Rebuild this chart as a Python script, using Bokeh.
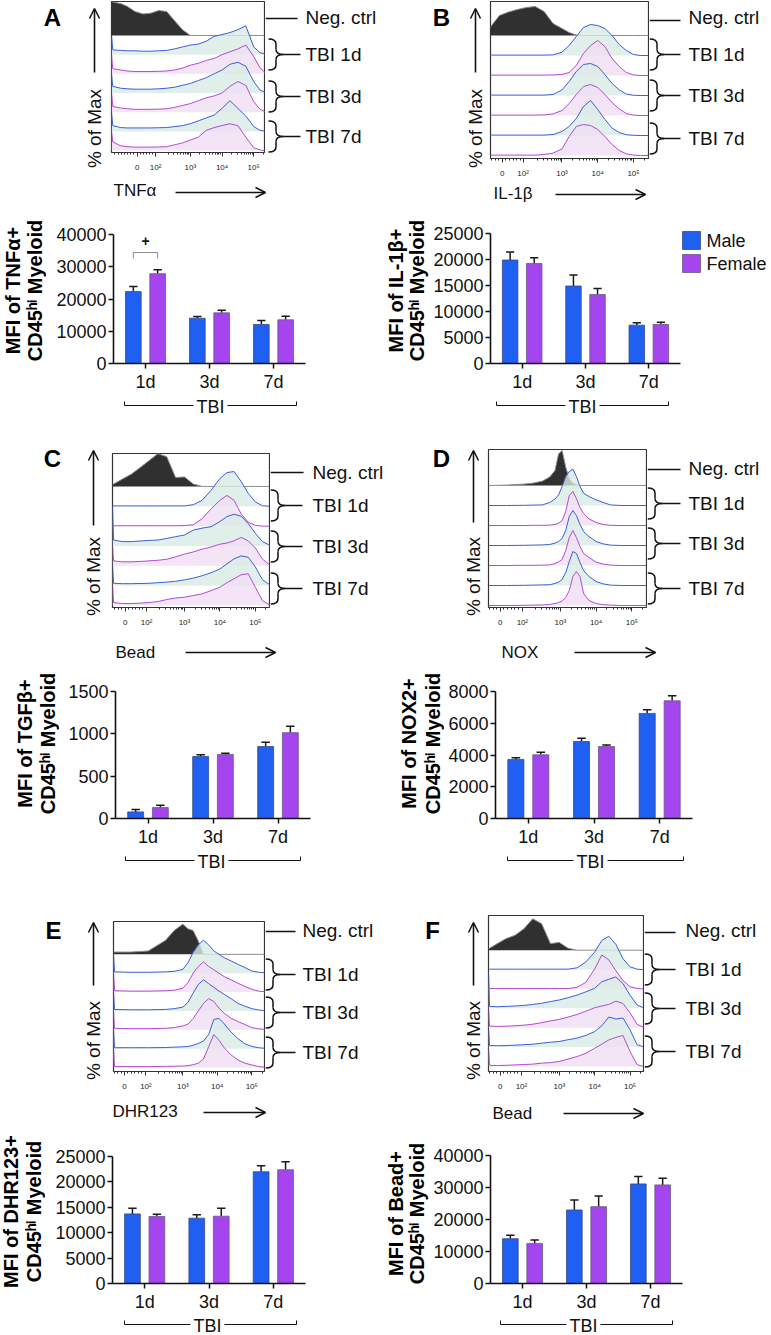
import math
from bokeh.plotting import figure
from bokeh.layouts import column, row
from bokeh.models import (FixedTicker, Label, Arrow, OpenHead, ColumnDataSource, Range1d,
                          NumeralTickFormatter)
from bokeh.core.properties import value
from bokeh.transform import dodge
from bokeh.embed import file_html
from bokeh.resources import INLINE

FONT = "Liberation Sans"
BLUE = "#1f5ff2"
PURPLE = "#a445ef"
HB_LINE, HB_FILL = "#3a5fd8", "#d9ebe6"
HP_LINE, HP_FILL = "#b34ad2", "#f0def3"

CATS = ["1d", "3d", "7d"]
GROUPS = ["TBI 1d", "TBI 3d", "TBI 7d"]
SEXES = ["Male", "Female"]
HIST_TICK_LABELS = ["0", "10²", "10³", "10⁴", "10⁵"]

# ---------------- histogram data (transformed fluorescence axis, "% of Max" heights) ----
A_GRID = [0.51, 0.55, 0.8, 1.0, 1.25, 1.5, 1.75, 2.0, 2.25, 2.5, 2.75, 3.0, 3.25, 3.5, 3.75, 4.0, 4.25, 4.5, 4.75, 5.0, 5.2, 5.34]
A_NEG = [1.79, 1.75, 1.66, 1.52, 1.25, 1.12, 1.16, 1.3, 1.25, 0.77, 0.3, 0.0, 0, 0, 0, 0, 0, 0, 0, 0, 0, 0]
A_M1 = [1.0, 0.25, 0.22, 0.2, 0.2, 0.18, 0.18, 0.2, 0.22, 0.3, 0.4, 0.5, 0.55, 0.7, 0.95, 1.05, 1.15, 1.3, 1.5, 0.4, 0.1, 0.05]
A_F1 = [1.0, 0.27, 0.2, 0.15, 0.12, 0.12, 0.12, 0.13, 0.15, 0.2, 0.3, 0.45, 0.55, 0.7, 0.8, 1.0, 1.15, 1.3, 1.5, 0.9, 0.3, 0.1]
A_M3 = [1.0, 0.35, 0.25, 0.22, 0.2, 0.2, 0.2, 0.22, 0.25, 0.3, 0.4, 0.5, 0.65, 0.8, 1.0, 1.2, 1.5, 1.6, 1.4, 0.6, 0.15, 0.05]
A_F3 = [1.0, 0.3, 0.22, 0.18, 0.15, 0.15, 0.15, 0.16, 0.18, 0.25, 0.35, 0.45, 0.6, 0.75, 0.85, 1.0, 1.35, 1.6, 1.4, 0.55, 0.15, 0.05]
A_M7 = [1.0, 0.3, 0.2, 0.18, 0.18, 0.18, 0.18, 0.19, 0.2, 0.25, 0.3, 0.4, 0.55, 0.7, 0.85, 1.2, 1.6, 1.2, 0.8, 0.25, 0.05, 0.02]
A_F7 = [1.0, 0.45, 0.25, 0.2, 0.18, 0.18, 0.18, 0.19, 0.2, 0.3, 0.4, 0.55, 0.7, 1.05, 1.2, 1.3, 1.4, 1.3, 0.7, 0.15, 0.03, 0.0]

B_GRID = [1.0, 1.03, 1.25, 1.5, 1.75, 2.0, 2.25, 2.5, 2.75, 3.0, 3.2, 3.4, 3.6, 3.8, 4.0, 4.2, 4.4, 4.6, 4.8, 5.0, 5.2, 5.42]
B_NEG = [0.4, 0.5, 1.0, 1.17, 1.3, 1.4, 1.45, 1.2, 0.6, 0.35, 0.15, 0.02, 0, 0, 0, 0, 0, 0, 0, 0, 0, 0]
B_M1 = [0.02, 0.02, 0.02, 0.02, 0.02, 0.02, 0.02, 0.02, 0.03, 0.17, 0.5, 0.95, 1.4, 1.55, 1.5, 1.35, 1.0, 0.55, 0.25, 0.05, 0.0, 0.0]
B_F1 = [0.02, 0.02, 0.02, 0.02, 0.02, 0.02, 0.02, 0.02, 0.03, 0.05, 0.15, 0.5, 1.1, 1.5, 1.75, 1.45, 0.85, 0.45, 0.15, 0.03, 0.0, 0.0]
B_M3 = [0.02, 0.02, 0.02, 0.02, 0.02, 0.02, 0.02, 0.02, 0.05, 0.28, 0.7, 1.2, 1.55, 1.6, 1.45, 1.05, 0.6, 0.28, 0.07, 0.01, 0.0, 0.0]
B_F3 = [0.02, 0.02, 0.02, 0.02, 0.02, 0.02, 0.02, 0.03, 0.08, 0.25, 0.6, 1.05, 1.45, 1.55, 1.4, 1.05, 0.65, 0.33, 0.1, 0.02, 0.0, 0.0]
B_M7 = [0.02, 0.02, 0.02, 0.02, 0.02, 0.02, 0.02, 0.02, 0.05, 0.2, 0.45, 0.85, 1.45, 1.75, 1.3, 0.8, 0.37, 0.15, 0.04, 0.01, 0.0, 0.0]
B_F7 = [0.02, 0.02, 0.02, 0.02, 0.02, 0.02, 0.02, 0.05, 0.12, 0.33, 0.95, 1.45, 1.55, 1.5, 1.3, 0.95, 0.55, 0.25, 0.08, 0.02, 0.0, 0.0]

C_GRID = [0.97, 1.0, 1.25, 1.5, 1.75, 2.0, 2.25, 2.5, 2.75, 3.0, 3.25, 3.5, 3.75, 4.0, 4.2, 4.4, 4.6, 4.8, 5.0, 5.2, 5.4]
C_NEG = [0.1, 0.12, 0.37, 0.62, 0.95, 1.3, 1.65, 1.5, 0.45, 0.48, 0.12, 0, 0, 0, 0, 0, 0, 0, 0, 0, 0]
C_M1 = [0.02, 0.02, 0.02, 0.02, 0.02, 0.02, 0.02, 0.02, 0.02, 0.02, 0.08, 0.3, 0.8, 1.4, 1.7, 1.75, 1.25, 0.65, 0.22, 0.03, 0.0]
C_F1 = [0.02, 0.02, 0.02, 0.02, 0.02, 0.02, 0.02, 0.02, 0.02, 0.03, 0.07, 0.37, 0.87, 1.3, 1.55, 1.3, 0.62, 0.2, 0.04, 0.0, 0.0]
C_M3 = [2.0, 0.3, 0.22, 0.22, 0.25, 0.28, 0.3, 0.38, 0.47, 0.55, 0.8, 0.9, 0.97, 1.23, 1.48, 1.6, 1.5, 1.13, 0.64, 0.22, 0.05]
C_F3 = [1.0, 0.25, 0.2, 0.2, 0.22, 0.25, 0.28, 0.33, 0.45, 0.59, 0.7, 0.84, 0.95, 1.09, 1.15, 1.26, 1.43, 1.26, 0.9, 0.34, 0.05]
C_M7 = [1.0, 0.12, 0.1, 0.1, 0.11, 0.12, 0.15, 0.18, 0.22, 0.29, 0.38, 0.5, 0.65, 0.84, 1.1, 1.35, 1.5, 1.43, 0.95, 0.3, 0.05]
C_F7 = [1.0, 0.15, 0.1, 0.1, 0.12, 0.15, 0.2, 0.3, 0.38, 0.42, 0.5, 0.59, 0.75, 0.92, 1.15, 1.35, 1.55, 1.6, 0.92, 0.25, 0.03]

D_GRID = [0.99, 1.5, 2.0, 2.25, 2.5, 2.7, 2.85, 2.95, 3.05, 3.15, 3.25, 3.35, 3.45, 3.55, 3.65, 3.8, 4.0, 4.2, 4.4, 4.7, 5.0, 5.41]
D_NEG = [0.0, 0.02, 0.07, 0.12, 0.22, 0.42, 0.75, 1.58, 1.75, 0.92, 0.33, 0.12, 0.03, 0, 0, 0, 0, 0, 0, 0, 0, 0]
D_M1 = [0, 0, 0.01, 0.02, 0.03, 0.15, 0.32, 0.53, 0.95, 1.45, 1.7, 1.82, 1.45, 0.95, 0.62, 0.45, 0.28, 0.15, 0.03, 0, 0, 0]
D_F1 = [0, 0, 0, 0.01, 0.01, 0.02, 0.05, 0.12, 0.25, 0.7, 1.5, 1.7, 1.35, 0.9, 0.6, 0.33, 0.15, 0.05, 0.01, 0, 0, 0]
D_M3 = [0, 0, 0.01, 0.02, 0.03, 0.05, 0.12, 0.2, 0.35, 0.75, 1.45, 1.75, 1.5, 1.05, 0.7, 0.45, 0.2, 0.08, 0.02, 0, 0, 0]
D_F3 = [0, 0, 0.01, 0.01, 0.02, 0.03, 0.1, 0.18, 0.3, 0.75, 1.4, 1.75, 1.4, 0.95, 0.6, 0.4, 0.17, 0.07, 0.02, 0, 0, 0]
D_M7 = [0, 0, 0.01, 0.02, 0.03, 0.04, 0.1, 0.17, 0.3, 0.65, 1.2, 1.7, 1.6, 1.15, 0.75, 0.45, 0.2, 0.08, 0.02, 0, 0, 0]
D_F7 = [0, 0, 0.01, 0.02, 0.03, 0.05, 0.1, 0.15, 0.22, 0.4, 0.75, 1.45, 1.7, 1.45, 0.6, 0.25, 0.1, 0.04, 0.02, 0, 0, 0]

E_GRID = [0.99, 1.02, 1.5, 2.0, 2.5, 2.75, 3.0, 3.15, 3.3, 3.45, 3.6, 3.75, 3.9, 4.05, 4.2, 4.4, 4.6, 4.8, 5.0, 5.2, 5.37]
E_NEG = [0.12, 0.12, 0.12, 0.18, 0.74, 1.26, 1.6, 1.35, 1.26, 0.7, 0.0, 0, 0, 0, 0, 0, 0, 0, 0, 0, 0]
E_M1 = [1.0, 0.07, 0.05, 0.05, 0.07, 0.1, 0.2, 0.55, 1.1, 1.5, 1.75, 1.5, 1.18, 1.0, 0.82, 0.65, 0.47, 0.3, 0.12, 0.05, 0.02]
E_F1 = [1.0, 0.07, 0.05, 0.05, 0.07, 0.1, 0.2, 0.5, 1.0, 1.35, 1.6, 1.35, 1.18, 1.0, 0.82, 0.65, 0.47, 0.3, 0.15, 0.05, 0.02]
E_M3 = [1.0, 0.08, 0.06, 0.06, 0.08, 0.12, 0.2, 0.45, 0.95, 1.4, 1.65, 1.45, 1.25, 1.05, 0.88, 0.65, 0.4, 0.25, 0.12, 0.05, 0.02]
E_F3 = [1.0, 0.08, 0.06, 0.06, 0.08, 0.12, 0.2, 0.3, 0.6, 1.0, 1.4, 1.65, 1.5, 1.15, 0.88, 0.61, 0.44, 0.28, 0.12, 0.05, 0.02]
E_M7 = [1.0, 0.05, 0.05, 0.05, 0.06, 0.08, 0.1, 0.12, 0.18, 0.28, 0.4, 0.75, 1.55, 1.6, 1.32, 0.88, 0.53, 0.26, 0.12, 0.05, 0.02]
E_F7 = [1.0, 0.05, 0.05, 0.05, 0.06, 0.07, 0.08, 0.1, 0.15, 0.23, 0.45, 1.1, 1.75, 1.45, 1.05, 0.67, 0.4, 0.23, 0.14, 0.05, 0.02]

F_GRID = [1.0, 1.03, 1.25, 1.5, 1.75, 2.0, 2.25, 2.5, 2.75, 3.0, 3.25, 3.5, 3.75, 4.0, 4.2, 4.4, 4.6, 4.8, 5.0, 5.2, 5.38]
F_NEG = [0.08, 0.1, 0.34, 0.6, 0.77, 1.1, 1.62, 1.37, 0.34, 0.4, 0.1, 0, 0, 0, 0, 0, 0, 0, 0, 0, 0]
F_M1 = [0.02, 0.02, 0.02, 0.02, 0.02, 0.02, 0.02, 0.02, 0.02, 0.02, 0.02, 0.09, 0.39, 0.9, 1.5, 1.72, 1.3, 0.56, 0.14, 0.02, 0.0]
F_F1 = [0.02, 0.02, 0.02, 0.02, 0.02, 0.02, 0.02, 0.02, 0.02, 0.02, 0.02, 0.08, 0.34, 1.03, 1.75, 1.5, 0.94, 0.43, 0.12, 0.02, 0.0]
F_M3 = [1.9, 0.1, 0.08, 0.1, 0.12, 0.15, 0.2, 0.26, 0.35, 0.43, 0.55, 0.68, 0.85, 1.03, 1.37, 1.5, 1.62, 1.28, 0.68, 0.17, 0.03]
F_F3 = [1.0, 0.08, 0.07, 0.08, 0.1, 0.13, 0.18, 0.26, 0.35, 0.43, 0.55, 0.68, 0.85, 1.03, 1.12, 1.2, 1.37, 1.25, 0.77, 0.17, 0.03]
F_M7 = [1.0, 0.08, 0.07, 0.08, 0.1, 0.12, 0.15, 0.2, 0.25, 0.29, 0.38, 0.46, 0.6, 0.8, 1.1, 1.55, 1.45, 1.5, 0.89, 0.12, 0.02]
F_F7 = [1.0, 0.06, 0.05, 0.06, 0.08, 0.1, 0.12, 0.17, 0.2, 0.26, 0.38, 0.51, 0.68, 0.94, 1.15, 1.37, 1.5, 1.6, 0.77, 0.09, 0.0]

# ---------------- bar data (mean and SEM) ----------------
A_MALE, A_MALE_SEM = [22300, 14050, 12100], [1600, 550, 1200]
A_FEMALE, A_FEMALE_SEM = [27850, 15700, 13550], [1200, 800, 1100]
A_YTICKS = [0, 10000, 20000, 30000, 40000]
A_SIG_Y = 34400

B_MALE, B_MALE_SEM = [19900, 14900, 7370], [1550, 2100, 450]
B_FEMALE, B_FEMALE_SEM = [19230, 13270, 7500], [1100, 1150, 450]
B_YTICKS = [0, 5000, 10000, 15000, 20000, 25000]

C_MALE, C_MALE_SEM = [78, 732, 850], [28, 20, 50]
C_FEMALE, C_FEMALE_SEM = [129, 756, 1014], [28, 15, 75]
C_YTICKS = [0, 500, 1000, 1500]

D_MALE, D_MALE_SEM = [3720, 4850, 6620], [105, 210, 230]
D_FEMALE, D_FEMALE_SEM = [4010, 4530, 7415], [168, 105, 313]
D_YTICKS = [0, 2000, 4000, 6000, 8000]

E_MALE, E_MALE_SEM = [13700, 12860, 22000], [1110, 650, 1175]
E_FEMALE, E_FEMALE_SEM = [13185, 13250, 22390], [460, 1570, 1570]
E_YTICKS = [0, 5000, 10000, 15000, 20000, 25000]

F_MALE, F_MALE_SEM = [14000, 22980, 31120], [1045, 3130, 2300]
F_FEMALE, F_FEMALE_SEM = [12530, 24020, 30810], [1045, 3340, 2090]
F_YTICKS = [0, 10000, 20000, 30000, 40000]


# ---------------- helpers ----------------
def blank(w, h):
    p = figure(width=w, height=h, x_range=Range1d(0, w), y_range=Range1d(0, h),
               min_border=0, min_border_left=0, min_border_right=0, min_border_top=0, min_border_bottom=0,
               x_axis_location=None, y_axis_location=None, output_backend="svg", toolbar_location=None,
               frame_align=False)
    p.xgrid.visible = False
    p.ygrid.visible = False
    p.outline_line_color = None
    return p


def txt(p, h, x, y, s, size, align="left", bold=False, angle=0.0, color="#111111"):
    p.text(x=[x], y=[h - y], text=[s], text_font=value(FONT), text_font_size=value(f"{size}px"),
           text_align=align, text_baseline="middle", text_font_style="bold" if bold else "normal",
           angle=angle, text_color=color)


def ln(p, h, x0, y0, x1, y1, w=1.2, color="#111111"):
    p.segment(x0=[x0], y0=[h - y0], x1=[x1], y1=[h - y1], line_color=color, line_width=w)


def arrow(p, h, x0, y0, x1, y1):
    p.add_layout(Arrow(x_start=x0, y_start=h - y0, x_end=x1, y_end=h - y1, start=None,
                       end=OpenHead(size=10, line_width=1.5, line_color="#111111"),
                       line_width=1.6, line_color="#111111"))


def brace(p, h, x0, yc, bw=15, bh=31, r=5):
    xm = x0 + bw / 2
    yt, yb = yc - bh / 2, yc + bh / 2
    q = dict(x0=[x0, xm, x0 + bw, xm], y0=[h - yt, h - (yc - r), h - yc, h - (yb - r)],
             x1=[xm, x0 + bw, xm, x0], y1=[h - (yt + r), h - yc, h - (yc + r), h - yb],
             cx=[xm, xm, xm, xm], cy=[h - yt, h - yc, h - yc, h - yb])
    p.quadratic(source=ColumnDataSource(q), x0="x0", y0="y0", x1="x1", y1="y1", cx="cx", cy="cy",
                line_color="#111111", line_width=1.5)
    ln(p, h, xm, yt + r, xm, yc - r, 1.5)
    ln(p, h, xm, yc + r, xm, yb - r, 1.5)


def hist_block(letter, grid, neg, curves, g, W, H):
    L, T, R, B = g["frame"]
    xr, yr = g["xr"], g["yr"]
    a = blank(L - 1, H)
    lx, ly = g["letter"]
    txt(a, H, lx, ly, letter, 24, align="center", bold=True, color="#000000")
    ux, uy0, uy1 = g["uparrow"]
    arrow(a, H, ux, uy0, ux, uy1)
    px_, py_ = g["pct"]
    txt(a, H, px_, py_, "% of Max", 19, align="center", angle=math.pi / 2)

    p = figure(width=R - L + 2, height=H, x_range=Range1d(*xr), y_range=Range1d(*yr),
               min_border_left=1, min_border_right=1, min_border_top=T, min_border_bottom=H - B,
               output_backend="svg", toolbar_location=None, y_axis_location=None, frame_align=False)
    p.xgrid.visible = False
    p.ygrid.visible = False
    p.outline_line_color = "#333333"
    p.outline_line_width = 1.2
    zero, two = g["zero"], g["two"]
    ticks = [zero, two, 3.0, 4.0, 5.0]
    minor = []
    for d in (2, 3, 4, 5):
        for k in range(2, 10):
            v = d + math.log10(k)
            if v < xr[1]:
                minor.append(v)
    for k in range(-7, 7):
        v = zero + k * 0.1
        if k != 0 and xr[0] < v < two - 0.05:
            minor.append(v)
    ax = p.xaxis[0]
    ax.ticker = FixedTicker(ticks=ticks, minor_ticks=minor)
    ax.major_label_overrides = {t: s for t, s in zip(ticks, HIST_TICK_LABELS)}
    ax.axis_line_color = None
    ax.major_tick_in = 0
    ax.major_tick_out = 4
    ax.minor_tick_in = 0
    ax.minor_tick_out = 2
    ax.major_tick_line_color = "#333333"
    ax.minor_tick_line_color = "#333333"
    ax.major_label_text_font = FONT
    ax.major_label_text_font_size = "8px"
    ax.major_label_text_color = "#222222"
    ax.major_label_standoff = 6

    top_base = 6
    p.varea(x=grid, y1=[top_base] * len(grid), y2=[top_base + v for v in neg],
            fill_color="#303030", fill_alpha=1.0)
    p.line(x=grid, y=[top_base + v for v in neg], line_color="#8c8c8c", line_width=1)
    for i, vals in enumerate(curves):
        base = 5 - i
        lc, fc = (HB_LINE, HB_FILL) if i % 2 == 0 else (HP_LINE, HP_FILL)
        p.varea(x=grid, y1=[base] * len(grid), y2=[base + v for v in vals], fill_color=fc, fill_alpha=0.8)
        p.line(x=grid, y=[base + v for v in vals], line_color=lc, line_width=1)

    off = R + 1
    b = blank(W - off, H)
    n0, n1, ny = g["neg_line"]
    ln(b, H, max(n0, off) - off, ny, n1 - off, ny, 1.3)
    ntx, nty = g["neg_text"]
    txt(b, H, ntx - off, nty, "Neg. ctrl", 19)
    bx = max(g["brace_x"], off) - off
    for name, c in zip(GROUPS, g["centers"]):
        brace(b, H, bx, c)
        ln(b, H, bx + 15, c, g["line_end"] - off, c, 1.3)
        txt(b, H, g["lab_x"] - off, c, name, 19)
    return row(a, p, b)


def xlabel_block(text, g, W, H):
    p = blank(W, H)
    x, y = g["xlab"]
    txt(p, H, x, y, text, 17)
    x0, x1, ay = g["xarrow"]
    arrow(p, H, x0, ay, x1, ay)
    return p


def bar_block(ylabel1, male, msem, female, fsem, yticks, g, W, H, legend=False, sig_y=None):
    L, T, R, B = g["frame"]
    Wy = g["wy"]
    ymax = yticks[-1]
    a = blank(Wy, H)
    x1, x2 = g["ylab_x"]
    yl = g["ylab_y"]
    txt(a, H, x1, yl, ylabel1, 20, align="center", bold=True, angle=math.pi / 2, color="#000000")
    txt(a, H, x2, yl, "CD45ʰⁱ Myeloid", 20, align="center", bold=True, angle=math.pi / 2, color="#000000")

    right_end = g.get("right_end", W)
    p = figure(width=right_end - Wy, height=H, x_range=Range1d(0, len(CATS)), y_range=Range1d(0, ymax),
               min_border_left=L - Wy, min_border_right=right_end - R, min_border_top=T,
               min_border_bottom=H - B, output_backend="svg", toolbar_location=None, frame_align=False)
    p.xgrid.visible = False
    p.ygrid.visible = False
    p.outline_line_color = None
    pos = [i + 0.5 for i in range(len(CATS))]
    src = ColumnDataSource(dict(pos=pos, male=male, female=female,
                                male_hi=[m + s for m, s in zip(male, msem)],
                                female_hi=[f + s for f, s in zip(female, fsem)]))
    off, bw, cap = 0.19, 0.245, 0.065
    for col, hi, o in (("male", "male_hi", -off), ("female", "female_hi", off)):
        p.segment(x0=dodge("pos", o, range=p.x_range), y0=col, x1=dodge("pos", o, range=p.x_range), y1=hi,
                  source=src, line_color="#1a1a1a", line_width=1.5)
        p.segment(x0=dodge("pos", o - cap, range=p.x_range), y0=hi, x1=dodge("pos", o + cap, range=p.x_range),
                  y1=hi, source=src, line_color="#1a1a1a", line_width=1.5)
    p.vbar(x=dodge("pos", -off, range=p.x_range), top="male", width=bw, source=src,
           fill_color=BLUE, line_color="#3a4a80", line_width=0.8)
    p.vbar(x=dodge("pos", off, range=p.x_range), top="female", width=bw, source=src,
           fill_color=PURPLE, line_color="#6a5a80", line_width=0.8)
    for ax in (p.xaxis[0], p.yaxis[0]):
        ax.axis_line_width = 1.6
        ax.axis_line_color = "#111111"
        ax.major_tick_line_width = 1.5
        ax.major_tick_line_color = "#111111"
        ax.major_tick_in = 0
        ax.major_tick_out = 5
        ax.minor_tick_line_color = None
        ax.major_label_text_font = FONT
        ax.major_label_text_font_size = "18px"
        ax.major_label_text_color = "#111111"
    p.xaxis[0].ticker = FixedTicker(ticks=pos)
    p.xaxis[0].major_label_overrides = {x: c for x, c in zip(pos, CATS)}
    p.xaxis[0].major_label_standoff = 3
    p.yaxis[0].ticker = FixedTicker(ticks=yticks)
    p.yaxis[0].formatter = NumeralTickFormatter(format="0")
    p.yaxis[0].major_label_standoff = 2
    if sig_y is not None:
        xa, xb = pos[0] - off, pos[0] + off
        drop = ymax * 6 / (B - T)
        p.line(x=[xa, xa, xb, xb], y=[sig_y - drop, sig_y, sig_y, sig_y - drop],
               line_color="#8a8a8a", line_width=1)
        p.add_layout(Label(x=pos[0], y=sig_y + ymax * 12 / (B - T), text="+", text_font=FONT,
                           text_font_size="14px", text_font_style="bold", text_align="center",
                           text_baseline="middle", text_color="#111111"))
    kids = [a, p]
    if legend:
        lw = W - right_end
        lg = blank(lw, H)
        for (name, color, lc), yc in zip(((SEXES[0], BLUE, "#3a4a80"), (SEXES[1], PURPLE, "#6a5a80")),
                                         g["legend_y"]):
            lg.quad(left=[1], right=[19], bottom=[H - yc - 9], top=[H - yc + 9],
                    fill_color=color, line_color=lc, line_width=0.8)
            txt(lg, H, 25, yc, name, 18)
        kids.append(lg)
    return row(*kids)


def tbi_block(g, W, H):
    p = blank(W, H)
    t0, t1, ty = g["tbi"]
    tc = g["tbi_text"]
    ln(p, H, t0, ty, tc - 17, ty, 1.0)
    ln(p, H, tc + 17, ty, t1, ty, 1.0)
    ln(p, H, t0, ty, t0, ty - 4, 1.0)
    ln(p, H, t1, ty, t1, ty - 4, 1.0)
    txt(p, H, tc, ty + 1, "TBI", 18, align="center")
    return p


# ---------------- layout geometry (column-local pixels) ----------------
WL, WR = 385, 386
ROWS = [dict(hh=180, xh=25, bh=192, th=48), dict(hh=185, xh=35, bh=185, th=55), dict(hh=188, xh=32, bh=189, th=21)]

HG = {
    "A": dict(frame=(111, 1, 264, 152), xr=(0.51, 5.34), yr=(-0.1, 7.77), zero=1.32, two=1.9,
              letter=(52, 17), uparrow=(94, 72, 8), pct=(94, 128), xlab=(113, 10), xarrow=(175, 265, 12),
              neg_line=(258, 297, 18), neg_text=(305, 17), brace_x=268, line_end=300, lab_x=305,
              centers=(54, 96, 136)),
    "B": dict(frame=(105, 1, 263, 158), xr=(1.0, 5.42), yr=(-0.15, 7.7), zero=1.33, two=1.91,
              letter=(56, 17), uparrow=(90, 72, 8), pct=(90, 128), xlab=(108, 13), xarrow=(170, 260, 14),
              neg_line=(257, 295, 20), neg_text=(303, 17), brace_x=258, line_end=295, lab_x=303,
              centers=(54, 95, 138)),
    "C": dict(frame=(112, 8, 269, 162), xr=(0.97, 5.4), yr=(-0.1, 7.66), zero=1.33, two=1.93,
              letter=(52, 13), uparrow=(93, 80, 5), pct=(93, 131), xlab=(115, 22), xarrow=(185, 275, 22),
              neg_line=(263, 303, 27), neg_text=(312, 27), brace_x=267, line_end=302, lab_x=312,
              centers=(60, 101, 143)),
    "D": dict(frame=(103, 4, 261, 162), xr=(0.99, 5.41), yr=(-0.1, 7.8), zero=1.32, two=1.94,
              letter=(56, 13), uparrow=(88, 77, 5), pct=(88, 131), xlab=(116, 22), xarrow=(189, 270, 22),
              neg_line=(257, 295, 24), neg_text=(303, 23), brace_x=259, line_end=295, lab_x=303,
              centers=(58, 98, 143)),
    "E": dict(frame=(113, 16, 264, 167), xr=(0.99, 5.37), yr=(-0.21, 7.74), zero=1.31, two=1.93,
              letter=(53, 25), uparrow=(93, 80, 17), pct=(93, 135), xlab=(112, 18), xarrow=(203, 265, 19),
              neg_line=(255, 295, 26), neg_text=(302, 25), brace_x=258, line_end=295, lab_x=302,
              centers=(69, 107, 147)),
    "F": dict(frame=(103, 10, 258, 167), xr=(1.0, 5.38), yr=(-0.26, 7.79), zero=1.33, two=1.93,
              letter=(47, 25), uparrow=(88, 80, 17), pct=(88, 135), xlab=(107, 20), xarrow=(178, 258, 20),
              neg_line=(250, 290, 27), neg_text=(300, 25), brace_x=254, line_end=290, lab_x=300,
              centers=(64, 103, 146)),
}
BG = {
    "A": dict(frame=(113, 29, 305, 158), wy=46, ylab_x=(12, 34), ylab_y=85, tbi=(124, 296, 8), tbi_text=210),
    "B": dict(frame=(99, 28, 295, 158), wy=45, ylab_x=(10, 31), ylab_y=85, tbi=(111, 283, 8), tbi_text=197,
              right_end=296, legend_y=(35, 58)),
    "C": dict(frame=(115, 26, 310, 153), wy=59, ylab_x=(24, 47), ylab_y=78, tbi=(125, 300, 10), tbi_text=211),
    "D": dict(frame=(110, 26, 307, 153), wy=59, ylab_x=(23, 47), ylab_y=78, tbi=(122, 298, 10), tbi_text=205),
    "E": dict(frame=(112, 31, 305, 158), wy=45, ylab_x=(10, 33), ylab_y=86, tbi=(124, 296, 10), tbi_text=207),
    "F": dict(frame=(103, 30, 297, 158), wy=45, ylab_x=(10, 31), ylab_y=88, tbi=(115, 287, 10), tbi_text=198),
}

XLABELS = {"A": "TNFα", "B": "IL-1β", "C": "Bead", "D": "NOX", "E": "DHR123", "F": "Bead"}
YLABELS = {"A": "MFI of TNFα+", "B": "MFI of IL-1β+", "C": "MFI of TGFβ+", "D": "MFI of NOX2+",
           "E": "MFI of DHR123+", "F": "MFI of Bead+"}
HDATA = {
    "A": (A_GRID, A_NEG, [A_M1, A_F1, A_M3, A_F3, A_M7, A_F7]),
    "B": (B_GRID, B_NEG, [B_M1, B_F1, B_M3, B_F3, B_M7, B_F7]),
    "C": (C_GRID, C_NEG, [C_M1, C_F1, C_M3, C_F3, C_M7, C_F7]),
    "D": (D_GRID, D_NEG, [D_M1, D_F1, D_M3, D_F3, D_M7, D_F7]),
    "E": (E_GRID, E_NEG, [E_M1, E_F1, E_M3, E_F3, E_M7, E_F7]),
    "F": (F_GRID, F_NEG, [F_M1, F_F1, F_M3, F_F3, F_M7, F_F7]),
}
BDATA = {
    "A": (A_MALE, A_MALE_SEM, A_FEMALE, A_FEMALE_SEM, A_YTICKS),
    "B": (B_MALE, B_MALE_SEM, B_FEMALE, B_FEMALE_SEM, B_YTICKS),
    "C": (C_MALE, C_MALE_SEM, C_FEMALE, C_FEMALE_SEM, C_YTICKS),
    "D": (D_MALE, D_MALE_SEM, D_FEMALE, D_FEMALE_SEM, D_YTICKS),
    "E": (E_MALE, E_MALE_SEM, E_FEMALE, E_FEMALE_SEM, E_YTICKS),
    "F": (F_MALE, F_MALE_SEM, F_FEMALE, F_FEMALE_SEM, F_YTICKS),
}


def panel_column(keys, W):
    kids = []
    for key, rd in zip(keys, ROWS):
        grid, neg, curves = HDATA[key]
        kids.append(hist_block(key, grid, neg, curves, HG[key], W, rd["hh"]))
        kids.append(xlabel_block(XLABELS[key], HG[key], W, rd["xh"]))
        m, ms, f, fs, yt = BDATA[key]
        kids.append(bar_block(YLABELS[key], m, ms, f, fs, yt, BG[key], W, rd["bh"],
                              legend=(key == "B"), sig_y=A_SIG_Y if key == "A" else None))
        kids.append(tbi_block(BG[key], W, rd["th"]))
    return column(*kids)


root = row(panel_column(["A", "C", "E"], WL), panel_column(["B", "D", "F"], WR))
open("out.html", "w").write(file_html(root, INLINE, "TBI myeloid MFI"))
